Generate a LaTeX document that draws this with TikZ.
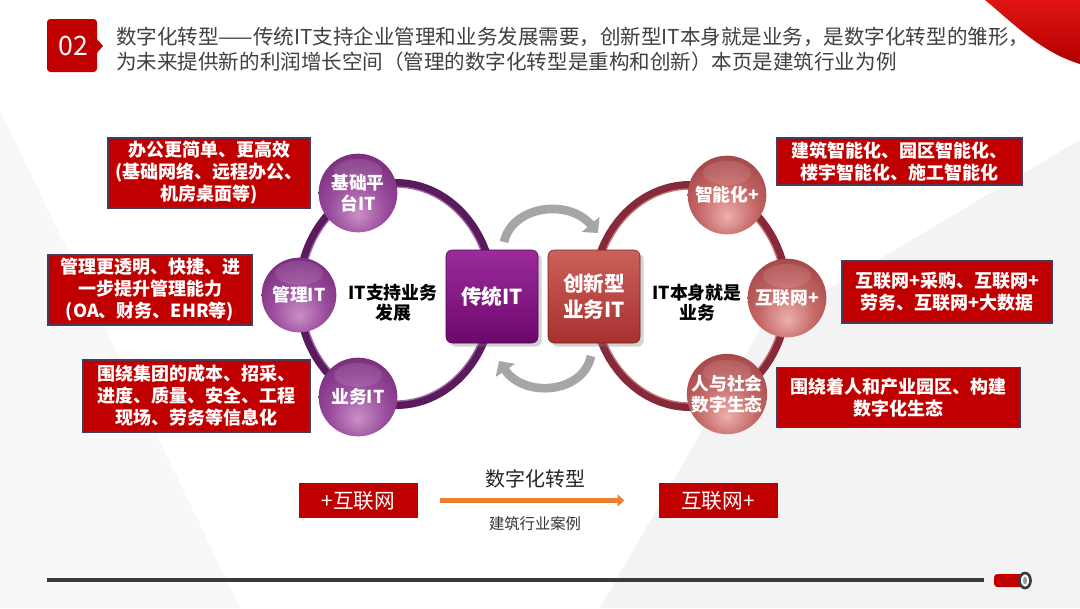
\documentclass[tikz,border=0pt]{standalone}
\usepackage{fontspec}
\setmainfont{Noto Sans CJK SC}
\usetikzlibrary{arrows.meta,shadows}
\definecolor{rboxc}{HTML}{C00000}
\definecolor{boxedge}{HTML}{4A3A5A}
\definecolor{titlec}{HTML}{404040}
\definecolor{pL}{HTML}{C990C9}
\definecolor{pM}{HTML}{9A4C9C}
\definecolor{pD}{HTML}{5E1462}
\definecolor{rL}{HTML}{EDB0AE}
\definecolor{rM}{HTML}{C46866}
\definecolor{rD}{HTML}{8C2A30}
\definecolor{ringP}{HTML}{5A1A5E}
\definecolor{ringPi}{HTML}{A06AA4}
\definecolor{ringR}{HTML}{862A3A}
\definecolor{ringRi}{HTML}{C87474}
\definecolor{tradT}{HTML}{9C2C9C}
\definecolor{tradB}{HTML}{6C086C}
\definecolor{innT}{HTML}{CC605A}
\definecolor{innB}{HTML}{A8302E}
\definecolor{arrg}{HTML}{A6A6A6}
\definecolor{orng}{HTML}{ED7D31}
\definecolor{lineg}{HTML}{3A3A3A}
\definecolor{bgg}{HTML}{F3F3F3}
\definecolor{swA}{HTML}{E01414}
\definecolor{swB}{HTML}{B00000}
\pgfdeclareradialshading{pballs}{\pgfpoint{0bp}{-14bp}}{color(0bp)=(pL); color(18bp)=(pM); color(46bp)=(pD); color(70bp)=(pD)}
\pgfdeclareradialshading{rballs}{\pgfpoint{0bp}{-14bp}}{color(0bp)=(rL); color(18bp)=(rM); color(46bp)=(rD); color(70bp)=(rD)}
\tikzset{
  redbox/.style={draw=boxedge, line width=0.8pt, fill=rboxc, text=white, align=center, inner sep=0pt,
    font=\bfseries\fontsize{13.5}{16.5}\selectfont},
  flatbox/.style={fill=rboxc, text=white, align=center, inner sep=0pt, font=\fontsize{15.5}{18}\selectfont},
  pball/.style={circle, shading=pballs, text=white, align=center, inner sep=0pt, minimum size=59pt,
    font=\bfseries\fontsize{13.3}{15.8}\selectfont},
  rball/.style={circle, shading=rballs, text=white, align=center, inner sep=0pt, minimum size=59pt,
    font=\bfseries\fontsize{13.3}{15.8}\selectfont},
  bigbox/.style={rounded corners=4.5pt, text=white, align=center, inner sep=0pt, minimum width=69pt,
    minimum height=69.75pt, font=\bfseries\fontsize{15.5}{19}\selectfont, drop shadow={opacity=0.35}},
  midlabel/.style={text=black, align=center, inner sep=0pt, font=\bfseries\fontsize{13.4}{15.2}\selectfont},
  titletext/.style={text=titlec, anchor=west, inner sep=0pt, font=\fontsize{15.4}{19}\selectfont},
  grayarrow/.style={draw=arrg, line width=6.5pt, -{Triangle[length=8.5pt,width=17pt]}},
  orangearrow/.style={draw=orng, line width=3.75pt, -{Triangle[length=5pt,width=9pt]}},
}
\begin{document}
\begin{tikzpicture}[x=0.75pt,y=-0.75pt]
\useasboundingbox (0,0) rectangle (1080,608);
% background
\fill[white] (0,0) rectangle (1080,608);
\fill[bgg] (600,608) -- (760,330) -- (1080,140) -- (1080,608) -- cycle;
\fill[bgg!60!white] (0,110) -- (240,608) -- (0,608) -- cycle;
% red swoosh
\shade[top color=swA, bottom color=swB] (985,0) .. controls (1012,22) and (1040,52) .. (1080,64) -- (1080,0) -- cycle;
% title badge
\fill[rboxc, rounded corners=2.5pt] (47,19) rectangle (97,72);
\fill[rboxc] (96,38) -- (103,46) -- (96,54) -- cycle;
\node[text=white, inner sep=0pt, font=\fontsize{20}{24}\selectfont] (badge) at (73,46) {02};
\node[titletext] (t1) at (116,37) {数字化转型——传统IT支持企业管理和业务发展需要，创新型IT本身就是业务，是数字化转型的雏形，};
\node[titletext] (t2) at (116,62) {为未来提供新的利润增长空间（管理的数字化转型是重构和创新）本页是建筑行业为例};
% rings
\draw[ringP, line width=6pt] (396,294) ellipse[x radius=97, y radius=111];
\draw[ringPi, line width=1pt] (396,294) ellipse[x radius=93, y radius=107];
\draw[ringR, line width=6pt] (690,296) ellipse[x radius=97, y radius=111];
\draw[ringRi, line width=1pt] (690,296) ellipse[x radius=93, y radius=107];
% gray arrows
\coordinate (ga1) at (504,242);
\coordinate (ga2) at (598,233);
\coordinate (gb1) at (591,356);
\coordinate (gb2) at (499,361);
\draw[grayarrow] (ga1) .. controls (512,206) and (568,198) .. (ga2);
\draw[grayarrow] (gb1) .. controls (583,394) and (524,398) .. (gb2);
% central boxes
\node[bigbox, top color=tradT, bottom color=tradB, draw=tradB!70!black] (trad) at (492,296.5) {传统IT};
\node[bigbox, top color=innT, bottom color=innB, draw=innB!70!black] (inno) at (594,296.5) {创新型\\业务IT};
% balls
\node[pball] (jc) at (358,193) {基础平\\台IT};
\node[pball, minimum size=56pt] (gl) at (299,295) {管理IT};
\node[pball] (yw) at (358,397) {业务IT};
\node[rball] (zn) at (727,195) {智能化+};
\node[rball] (hl) at (787,298) {互联网+};
\node[rball] (rs) at (727,394) {人与社会\\数字生态};
\foreach \b in {jc,gl,yw,zn,hl,rs}{
  \fill[white, opacity=0.1] (\b.center) ++(0,-22) ellipse[x radius=24, y radius=12];
}
% middle labels
\node[midlabel] (lm) at (393,303) {IT支持业务\\发展};
\node[midlabel] (rm) at (697,303) {IT本身就是\\业务};
% left red boxes
\node[redbox, minimum width=151.5pt, minimum height=52.5pt] (lb1) at (209,173) {办公更简单、更高效\\(基础网络、远程办公、\\机房桌面等)};
\node[redbox, minimum width=153pt, minimum height=52.5pt] (lb2) at (150,290) {管理更透明、快捷、进\\一步提升管理能力\\(OA、财务、EHR等)};
\node[redbox, minimum width=170.25pt, minimum height=54pt] (lb3) at (196.5,396) {围绕集团的成本、招采、\\进度、质量、安全、工程\\现场、劳务等信息化};
% right red boxes
\node[redbox, minimum width=183.75pt, minimum height=35.25pt] (rb1) at (899.5,161.5) {建筑智能化、园区智能化、\\楼宇智能化、施工智能化};
\node[redbox, minimum width=157.5pt, minimum height=46.5pt] (rb2) at (947,292) {互联网+采购、互联网+\\劳务、互联网+大数据};
\node[redbox, minimum width=182.25pt, minimum height=45pt] (rb3) at (898.5,397.5) {围绕着人和产业园区、构建\\数字化生态};
% bottom transformation
\node[flatbox, minimum width=89.25pt, minimum height=26.25pt] (pa) at (358.5,500.5) {+互联网};
\node[flatbox, minimum width=89.25pt, minimum height=26.25pt] (pb) at (718,500.5) {互联网+};
\draw[orangearrow, shorten <=16.5pt, shorten >=25.5pt] (pa) -- (pb);
\node[text=black!85, inner sep=0pt, font=\fontsize{15}{18}\selectfont] (dz) at (535,479) {数字化转型};
\node[text=black!80, inner sep=0pt, font=\fontsize{11.5}{14}\selectfont] (jz) at (535,524) {建筑行业案例};
% bottom line
\coordinate (l1) at (47,580);
\coordinate (l2) at (984,580);
\draw[lineg, line width=2.4pt] (l1) -- (l2);
\fill[rboxc, rounded corners=2.5pt] (994,574) rectangle (1024,587);
\draw[lineg, line width=2pt, fill=white] (1025,580.5) ellipse[x radius=5.5, y radius=7.5];
\fill[black!40] (1025,580.5) ellipse[x radius=2, y radius=4];
\end{tikzpicture}
\end{document}
